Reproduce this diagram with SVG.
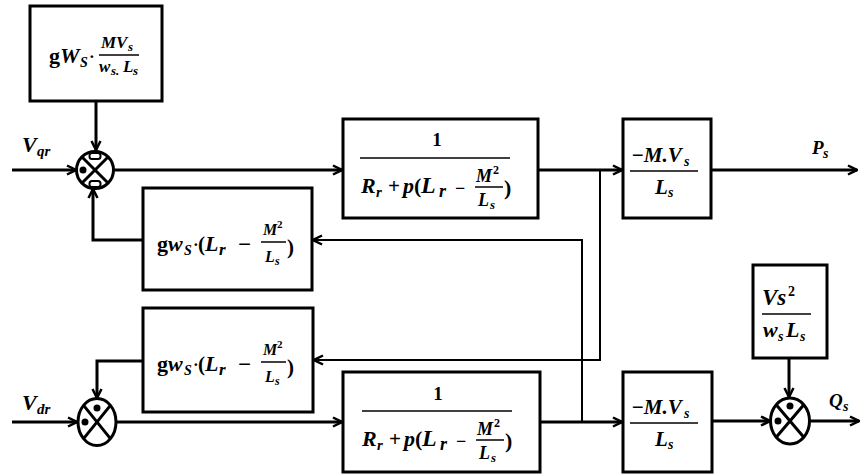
<svg xmlns="http://www.w3.org/2000/svg" width="861" height="474" viewBox="0 0 861 474">
<defs>
<style>
.bx{fill:none;stroke:#000;stroke-width:3}
.ln{fill:none;stroke:#000;stroke-width:3}
.ln2{fill:none;stroke:#000;stroke-width:2}
.fr{stroke:#000;stroke-width:1.5}
.m{font-family:"Liberation Serif","DejaVu Serif",serif;font-weight:bold;font-style:italic;fill:#000}
.u{font-style:normal}
.dot{fill:#000}
.bar{fill:#fff;stroke:#000;stroke-width:2}
</style>
<marker id="ah" viewBox="0 0 12 12" refX="11" refY="6" markerWidth="12" markerHeight="12" orient="auto" markerUnits="userSpaceOnUse">
<path d="M2,1.5 L11,6 L2,10.5" fill="none" stroke="#000" stroke-width="2.5"/>
</marker>
</defs>
<rect width="861" height="474" fill="#fff"/>

<g id="connectors">
<path class="ln" d="M96,101 V150" marker-end="url(#ah)"/>
<path class="ln" d="M12,170 H76" marker-end="url(#ah)"/>
<path class="ln" d="M113.5,170 H342" marker-end="url(#ah)"/>
<path class="ln" d="M538,170 H622" marker-end="url(#ah)"/>
<path class="ln" d="M711,170 H857" marker-end="url(#ah)"/>
<path class="ln2" d="M600,170 V360 H314" marker-end="url(#ah)"/>
<path class="ln" d="M143,240 H93 V189" marker-end="url(#ah)"/>
<path class="ln2" d="M582,422 V240 H313" marker-end="url(#ah)"/>
<path class="ln" d="M143,361 H97 V398" marker-end="url(#ah)"/>
<path class="ln" d="M12,422 H77" marker-end="url(#ah)"/>
<path class="ln" d="M116,422 H342" marker-end="url(#ah)"/>
<path class="ln" d="M540,422 H622" marker-end="url(#ah)"/>
<path class="ln" d="M712,421 H770" marker-end="url(#ah)"/>
<path class="ln" d="M789,358 V397" marker-end="url(#ah)"/>
<path class="ln" d="M809.5,421 H859" marker-end="url(#ah)"/>
<text class="m" font-size="22"><tspan x="22" y="152">V</tspan><tspan font-size="15" x="37" y="156">qr</tspan></text>
<text class="m" font-size="22"><tspan x="22" y="410">V</tspan><tspan font-size="15" x="37" y="414">dr</tspan></text>
<text class="m" font-size="19"><tspan x="812" y="154">P</tspan><tspan font-size="14" x="823" y="158">s</tspan></text>
<text class="m" font-size="19"><tspan x="829" y="407">Q</tspan><tspan font-size="14" x="843" y="411">s</tspan></text>
</g>

<g id="gain-mv">
<rect class="bx" x="30" y="6" width="132" height="95"/>
<text class="m" font-size="22"><tspan class="u" x="49" y="63">g</tspan><tspan x="60" y="63">W</tspan><tspan font-size="14" x="80" y="67">S</tspan><tspan class="u" font-size="17" x="89" y="62">·</tspan></text>
<text class="m" font-size="17"><tspan x="101" y="48">MV</tspan><tspan font-size="13" x="128" y="51">s</tspan></text>
<line class="fr" x1="99" y1="55" x2="139" y2="55"/>
<text class="m" font-size="17"><tspan x="99" y="72">w</tspan><tspan font-size="13" x="111" y="75">s.</tspan><tspan x="123" y="72">L</tspan><tspan font-size="13" x="133" y="75">s</tspan></text>
</g>

<g id="sum-q">
<circle class="bx" cx="95" cy="170" r="18.5"/>
<path class="ln" stroke-width="2.5" d="M82,157 L108,183 M108,157 L82,183"/>
<rect class="bar" x="89.5" y="153" width="11" height="6" rx="2.5"/>
<rect class="bar" x="89.5" y="181" width="11" height="6" rx="2.5"/>
<circle class="dot" cx="83" cy="170" r="3.5"/>
</g>

<g id="tf-q">
<rect class="bx" x="343" y="119" width="195" height="99"/>
<text class="m u" font-size="19" x="437" y="146" text-anchor="middle">1</text>
<line class="fr" x1="360" y1="158" x2="510" y2="158"/>
<text class="m" font-size="22"><tspan x="361" y="193">R</tspan><tspan font-size="15" x="376" y="197">r</tspan><tspan class="u" font-size="21" x="388" y="193">+</tspan><tspan x="403" y="193">p</tspan><tspan class="u" x="414" y="193">(</tspan><tspan font-size="24" x="421" y="193">L</tspan><tspan font-size="18" x="439" y="197">r</tspan><tspan class="u" font-size="18" x="455" y="194">−</tspan></text>
<text class="m" font-size="18"><tspan x="476" y="182">M</tspan><tspan class="u" font-size="12" x="493" y="174">2</tspan></text>
<line class="fr" x1="475" y1="187" x2="503" y2="187"/>
<text class="m" font-size="18"><tspan x="478" y="206">L</tspan><tspan font-size="13" x="490" y="209">s</tspan></text>
<text class="m u" font-size="22" x="504" y="195">)</text>
</g>

<g id="k-p">
<rect class="bx" x="623" y="119" width="88" height="99"/>
<text class="m" font-size="21"><tspan x="631" y="162">−M.V</tspan><tspan font-size="14" x="684" y="166">s</tspan></text>
<line class="fr" x1="630" y1="171" x2="698" y2="171"/>
<text class="m" font-size="21"><tspan x="655" y="194">L</tspan><tspan font-size="14" x="668" y="197">s</tspan></text>
</g>

<g id="fb-q">
<rect class="bx" x="143" y="188" width="169" height="102"/>
<text class="m" font-size="22"><tspan class="u" x="157" y="251">g</tspan><tspan x="168" y="251">w</tspan><tspan font-size="14" x="184" y="255">S</tspan><tspan class="u" font-size="17" x="193" y="250">·</tspan><tspan class="u" font-size="21" x="198" y="251">(</tspan><tspan font-size="22" x="205" y="251">L</tspan><tspan font-size="17" x="219" y="255">r</tspan><tspan class="u" font-size="23" x="238" y="252">−</tspan></text>
<text class="m" font-size="16"><tspan x="263" y="235">M</tspan><tspan class="u" font-size="11" x="277" y="228">2</tspan></text>
<line class="fr" x1="261" y1="242" x2="286" y2="242"/>
<text class="m" font-size="16"><tspan x="265" y="262">L</tspan><tspan font-size="12" x="275" y="265">s</tspan></text>
<text class="m u" font-size="21" x="287" y="254">)</text>
</g>

<g id="fb-d">
<rect class="bx" x="143" y="308" width="170" height="104"/>
<text class="m" font-size="22"><tspan class="u" x="157" y="371">g</tspan><tspan x="168" y="371">w</tspan><tspan font-size="14" x="184" y="375">S</tspan><tspan class="u" font-size="17" x="193" y="370">·</tspan><tspan class="u" font-size="21" x="198" y="371">(</tspan><tspan font-size="22" x="205" y="371">L</tspan><tspan font-size="17" x="219" y="375">r</tspan><tspan class="u" font-size="23" x="238" y="372">−</tspan></text>
<text class="m" font-size="16"><tspan x="263" y="355">M</tspan><tspan class="u" font-size="11" x="277" y="348">2</tspan></text>
<line class="fr" x1="261" y1="362" x2="286" y2="362"/>
<text class="m" font-size="16"><tspan x="265" y="382">L</tspan><tspan font-size="12" x="275" y="385">s</tspan></text>
<text class="m u" font-size="21" x="287" y="374">)</text>
</g>

<g id="sum-d">
<ellipse class="bx" cx="97" cy="422" rx="19" ry="23.5"/>
<path class="ln" stroke-width="2.5" d="M83.6,405.4 L110.4,438.6 M110.4,405.4 L83.6,438.6"/>
<circle class="dot" cx="97" cy="408" r="3.5"/>
<circle class="dot" cx="85" cy="422" r="3.5"/>
</g>

<g id="tf-d">
<rect class="bx" x="343" y="372" width="197" height="100"/>
<text class="m u" font-size="19" x="438" y="400" text-anchor="middle">1</text>
<line class="fr" x1="362" y1="411" x2="512" y2="411"/>
<text class="m" font-size="22"><tspan x="362" y="446">R</tspan><tspan font-size="15" x="377" y="450">r</tspan><tspan class="u" font-size="21" x="389" y="446">+</tspan><tspan x="404" y="446">p</tspan><tspan class="u" x="415" y="446">(</tspan><tspan font-size="24" x="422" y="446">L</tspan><tspan font-size="18" x="440" y="450">r</tspan><tspan class="u" font-size="18" x="456" y="447">−</tspan></text>
<text class="m" font-size="18"><tspan x="477" y="435">M</tspan><tspan class="u" font-size="12" x="494" y="427">2</tspan></text>
<line class="fr" x1="476" y1="440" x2="504" y2="440"/>
<text class="m" font-size="18"><tspan x="479" y="459">L</tspan><tspan font-size="13" x="491" y="462">s</tspan></text>
<text class="m u" font-size="22" x="505" y="448">)</text>
</g>

<g id="k-q">
<rect class="bx" x="623" y="372" width="89" height="100"/>
<text class="m" font-size="21"><tspan x="631" y="414">−M.V</tspan><tspan font-size="14" x="684" y="418">s</tspan></text>
<line class="fr" x1="630" y1="423" x2="698" y2="423"/>
<text class="m" font-size="21"><tspan x="655" y="446">L</tspan><tspan font-size="14" x="668" y="449">s</tspan></text>
</g>

<g id="vs2">
<rect class="bx" x="753" y="265" width="74" height="93"/>
<text class="m" font-size="23"><tspan x="762" y="305">Vs</tspan><tspan class="u" font-size="14" x="788" y="296">2</tspan></text>
<line class="fr" x1="762" y1="314" x2="811" y2="314"/>
<text class="m" font-size="22"><tspan x="763" y="337">w</tspan><tspan font-size="14" x="778" y="341">s</tspan><tspan x="786" y="337">L</tspan><tspan font-size="14" x="800" y="341">s</tspan></text>
</g>

<g id="sum-Q">
<ellipse class="bx" cx="790" cy="421" rx="19.5" ry="23"/>
<path class="ln" stroke-width="2.5" d="M776.2,404.7 L803.8,437.3 M803.8,404.7 L776.2,437.3"/>
<circle class="dot" cx="790" cy="406" r="3.5"/>
<circle class="dot" cx="778" cy="421" r="3.5"/>
</g>
</svg>
